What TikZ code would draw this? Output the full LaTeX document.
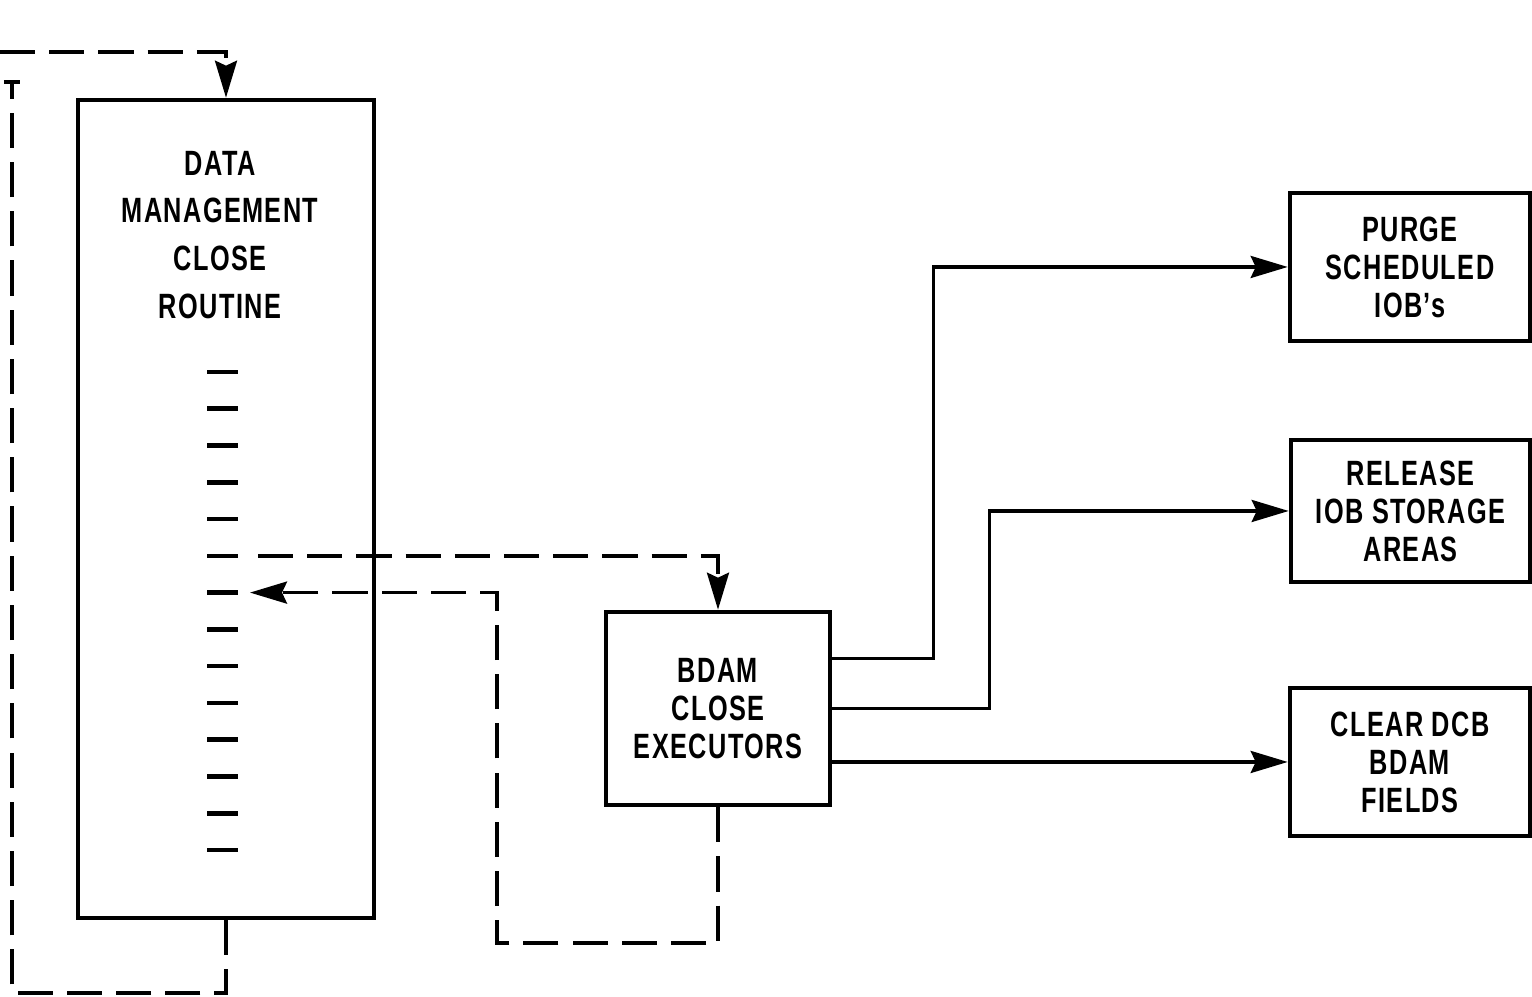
\documentclass[tikz,border=0pt]{standalone}
\usepackage{fontspec}
\setmainfont{Liberation Sans}[FakeStretch=0.72, UprightFont=* Bold, LetterSpace=4]
\usetikzlibrary{arrows.meta}
\newcommand{\lettering}{\fontsize{10}{10.8}\selectfont}
\tikzset{
  block/.style={draw, line width=1.3pt, inner sep=0pt, align=center, font=\lettering},
  dashline/.style={dash pattern=on 10pt off 4pt},
  >={Stealth[length=3.7mm,width=2.2mm,inset=0.5mm]}
}
\begin{document}
\begin{tikzpicture}[line width=1pt]
  \useasboundingbox (0,0) rectangle (15.32,9.97);
  % close routine column
  \node[block, minimum width=2.96cm, minimum height=8.18cm] (dm) at (2.26,4.88) {};
  \node[align=center, font=\fontsize{10}{13.6}\selectfont] (dmtext) at (2.2,7.62)
    {DATA\\MANAGEMENT\\CLOSE\\ROUTINE};
  % ticks down the column
  \foreach \i in {1,...,14}
    \draw[line width=1.3pt] (2.07,{6.25-(\i-1)*0.3677}) -- ++(0.31,0) coordinate (t\i);
  % executor box
  \node[block, minimum width=2.24cm, minimum height=1.93cm] (bdam) at (7.18,2.885)
    {BDAM\\CLOSE\\EXECUTORS};
  % result boxes
  \node[block, minimum width=2.40cm, minimum height=1.48cm] (purge) at (14.10,7.30)
    {PURGE\\SCHEDULED\\IOB's};
  \node[block, minimum width=2.39cm, minimum height=1.42cm] (release) at (14.105,4.86)
    {RELEASE\\IOB STORAGE\\AREAS};
  \node[block, minimum width=2.40cm, minimum height=1.48cm] (clear) at (14.10,2.35)
    {CLEAR DCB\\BDAM\\FIELDS};
  % call into executors
  \draw[dashline,->] ([xshift=2mm]t6) -| (bdam.north);
  % return to close routine
  \coordinate (ret) at (4.97,0.54);
  \draw[dashline,->] (bdam.south) |- (ret) |- ([xshift=1.2mm]t7);
  % entry at top
  \coordinate (entry) at (0,9.45);
  \draw[dashline,->] (entry) -| (dm.north);
  % exit to the left
  \coordinate (exitb) at (0.12,0.04);
  \coordinate (exitt) at (0.12,9.15);
  \draw[dashline] (dm.south) |- (exitb) -- (exitt);
  \draw (exitt) +(-0.08,0) -- +(0.08,0);
  % executor outputs
  \draw[->] ([yshift=5mm]bdam.east) -- ++(1.01,0) |- (purge.west);
  \draw[->] (bdam.east) -- ++(1.57,0) |- (release.west);
  \draw[->] (clear.west -| bdam.east) -- (clear.west);
\end{tikzpicture}
\end{document}
